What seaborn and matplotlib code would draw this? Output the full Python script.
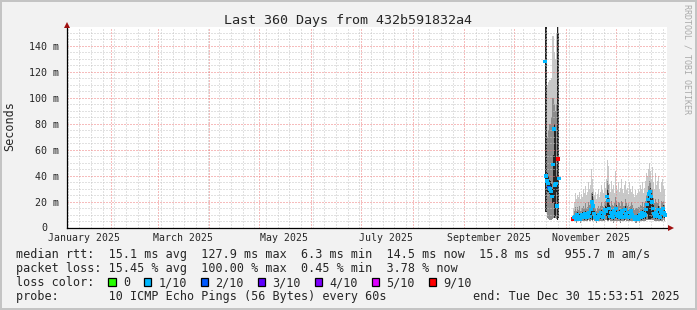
import numpy as np
import pandas as pd
import matplotlib
matplotlib.use("Agg")
import matplotlib.pyplot as plt
import matplotlib.dates as mdates
from matplotlib.patches import Rectangle
import seaborn as sns

# ---------------- data ----------------
title = "Last 360 Days from 432b591832a4"
axis_start = "2025-01-05 12:30"
axis_days = 360
bucket_minutes = 864          # 0.6 day per consolidated bucket

month_labels = ["January 2025", "March 2025", "May 2025", "July 2025",
                "September 2025", "November 2025"]
month_label_dates = ["2025-01-16", "2025-03-16", "2025-05-16", "2025-07-16",
                     "2025-09-16", "2025-11-16"]
ytick_values = [0, 20, 40, 60, 80, 100, 120, 140]
ytick_labels = ["0", "20 m", "40 m", "60 m", "80 m", "100 m", "120 m", "140 m"]

# segment 1 (ms)
seg1_start = "2025-10-19 08:00"
seg1_med = [128, 40, 36, 34, 31, 30, 28, 24, 49, 76, 33, 34, 17, 53, 38]
seg1_lo = [13, 12, 8, 7, 6, 6, 6, 7, 8, 9, 8, 7, 6, 10, 12]
seg1_hi = [155, 155, 110, 112, 114, 114, 115, 148, 148, 135, 130, 150, 155, 155, 60]
seg1_mhi = [155, 155, 70, 75, 80, 80, 85, 100, 100, 95, 90, 95, 155, 150, 50]
seg1_dlo = [12, 12, 28, 28, 26, 25, 23, 19, 20, 8, 9, 28, 6, 8, 30]
seg1_dhi = [155, 155, 42, 40, 37, 36, 34, 30, 56, 80, 78, 40, 155, 150, 45]
seg1_loss = [1, 1, 1, 1, 2, 1, 1, 1, 1, 1, 1, 1, 1, 9, 1]

# segment 2 (ms)
seg2_start = "2025-11-05 03:00"
seg2_med = [7, 8, 9, 7, 10, 8, 9, 7, 8, 10,
            9, 8, 11, 9, 8, 10, 12, 9, 14, 20,
            17, 11, 8, 9, 7, 8, 10, 9, 12, 9,
            8, 11, 14, 13, 24, 21, 15, 9, 12, 10,
            8, 13, 11, 15, 10, 9, 12, 8, 10, 13,
            9, 8, 14, 11, 9, 12, 8, 9, 13, 10,
            9, 8, 7, 8, 9, 7, 8, 10, 8, 12,
            9, 11, 10, 14, 18, 22, 26, 28, 24, 20,
            15, 11, 9, 12, 10, 14, 9, 8, 13, 11,
            15, 12, 10]
seg2_lo = [5, 5, 5, 4, 5, 5, 5, 4, 5, 5,
           5, 5, 5, 5, 5, 6, 5, 5, 6, 5,
           6, 5, 5, 4, 5, 5, 5, 5, 5, 5,
           5, 5, 6, 6, 5, 5, 6, 5, 5, 5,
           4, 5, 5, 5, 5, 5, 5, 4, 5, 5,
           5, 5, 6, 5, 5, 5, 5, 5, 5, 5,
           5, 5, 4, 4, 5, 5, 4, 5, 5, 5,
           5, 5, 5, 6, 6, 6, 6, 6, 6, 6,
           6, 5, 5, 5, 5, 5, 5, 5, 5, 5,
           6, 5, 5]
seg2_hi = [15, 20, 27, 22, 25, 24, 28, 22, 26, 24,
           30, 27, 32, 25, 28, 35, 30, 33, 45, 38,
           30, 25, 28, 22, 26, 30, 24, 28, 33, 29,
           27, 35, 31, 38, 52, 48, 34, 28, 36, 30,
           33, 27, 44, 32, 29, 35, 28, 31, 38, 30,
           27, 33, 36, 29, 31, 26, 35, 30, 28, 32,
           26, 24, 29, 25, 27, 30, 28, 33, 30, 35,
           27, 31, 36, 42, 40, 45, 50, 44, 38, 47,
           35, 30, 42, 33, 36, 40, 30, 28, 35, 38,
           32, 30, 25]
seg2_mhi = [10, 13, 16, 13, 16, 14, 17, 13, 15, 15,
            17, 15, 19, 15, 16, 20, 18, 19, 27, 28,
            24, 17, 15, 13, 15, 17, 15, 17, 20, 17,
            16, 20, 21, 22, 36, 33, 23, 17, 21, 18,
            17, 19, 24, 21, 17, 20, 19, 17, 21, 20,
            17, 17, 22, 19, 17, 19, 16, 17, 20, 18,
            15, 14, 15, 15, 15, 16, 16, 18, 17, 20,
            16, 19, 21, 25, 28, 32, 36, 35, 30, 30,
            23, 19, 22, 20, 19, 22, 17, 15, 21, 20,
            21, 18, 15]
seg2_dlo = [6, 6, 7, 6, 7, 6, 7, 6, 6, 7,
            7, 6, 8, 7, 6, 7, 8, 7, 9, 6,
            7, 8, 6, 7, 6, 6, 7, 7, 8, 7,
            6, 8, 9, 9, 6, 6, 9, 7, 8, 7,
            6, 9, 8, 10, 7, 7, 8, 6, 7, 9,
            7, 6, 9, 8, 7, 8, 6, 7, 9, 7,
            7, 6, 6, 6, 7, 6, 6, 7, 6, 8,
            7, 8, 7, 9, 11, 7, 7, 7, 7, 8,
            10, 8, 7, 8, 7, 9, 7, 6, 9, 8,
            10, 8, 7]
seg2_dhi = [8, 10, 11, 9, 12, 10, 11, 9, 10, 12,
            11, 10, 13, 11, 10, 12, 14, 11, 17, 26,
            21, 13, 10, 11, 9, 10, 12, 11, 14, 11,
            10, 13, 17, 16, 30, 27, 18, 11, 14, 12,
            10, 15, 13, 18, 12, 11, 14, 10, 12, 15,
            11, 10, 17, 13, 11, 14, 10, 11, 15, 12,
            11, 10, 9, 10, 11, 9, 10, 12, 10, 14,
            11, 13, 12, 17, 22, 27, 30, 31, 28, 23,
            18, 13, 11, 14, 12, 17, 11, 10, 15, 13,
            18, 14, 12]
seg2_loss = [9] + [1] * 92

loss_names = ["0", "1/10", "2/10", "3/10", "4/10", "5/10", "9/10"]
loss_keys = [0, 1, 2, 3, 4, 5, 9]
loss_colors = ["#26ff00", "#00b8ff", "#0059ff", "#5e00ff", "#7e00ff", "#dd00ff", "#ff0000"]

legend_lines = [
    "median rtt:  15.1 ms avg  127.9 ms max  6.3 ms min  14.5 ms now  15.8 ms sd  955.7 m am/s",
    "packet loss: 15.45 % avg  100.00 % max  0.45 % min  3.78 % now",
    "loss color:",
    "probe:       10 ICMP Echo Pings (56 Bytes) every 60s",
]
end_text = "end: Tue Dec 30 15:53:51 2025"
ylabel = "Seconds"
watermark = "RRDTOOL / TOBI OETIKER"

# ---------------- drawing ----------------
sns.set_style("white")
plt.rcParams["font.family"] = ["DejaVu Sans Mono"]

W, H = 697, 310
fig = plt.figure(figsize=(W / 100, H / 100), dpi=100, facecolor="#f2f2f2")
ax = fig.add_axes([67 / W, 1 - 228 / H, 600 / W, 201 / H])
ax.set_facecolor("white")


def num(d):
    return mdates.date2num(pd.DatetimeIndex(d).to_pydatetime())


t0 = pd.Timestamp(axis_start)
t1 = t0 + pd.Timedelta(days=axis_days)
ax.set_xlim(mdates.date2num(t0.to_pydatetime()), mdates.date2num(t1.to_pydatetime()))
ax.set_ylim(0, 154.6)

segments = [
    (seg1_start, seg1_med, seg1_lo, seg1_hi, seg1_mhi, seg1_dlo, seg1_dhi, seg1_loss),
    (seg2_start, seg2_med, seg2_lo, seg2_hi, seg2_mhi, seg2_dlo, seg2_dhi, seg2_loss),
]
frames = []
for start, med, lo, hi, mhi, dlo, dhi, loss in segments:
    t = num(pd.date_range(start, periods=len(med), freq=f"{bucket_minutes}min"))
    ax.fill_between(t, lo, hi, step="mid", color="#c8c8c8", lw=0, antialiased=False, zorder=1)
    ax.fill_between(t, lo, mhi, step="mid", color="#8c8c8c", lw=0, antialiased=False, zorder=1.1)
    ax.fill_between(t, dlo, dhi, step="mid", color="#262626", lw=0, antialiased=False, zorder=1.2)
    frames.append(pd.DataFrame({"t": t, "med": med, "loss": loss}))
df = pd.concat(frames, ignore_index=True)
palette = dict(zip(loss_keys, loss_colors))
sns.scatterplot(data=df, x="t", y="med", hue="loss", palette=palette, marker="s",
                s=6, linewidth=0, legend=False, ax=ax, zorder=4)

# grid
month_starts = pd.date_range("2025-02-01", "2025-12-01", freq="MS")
weeks = pd.date_range("2025-01-06", "2025-12-29", freq="W-MON")
ax.set_xticks(num(month_starts))
ax.set_xticks(num(weeks), minor=True)
ax.set_yticks(ytick_values)
ax.set_yticks(np.arange(0, 155, 5), minor=True)
dot = (0, (1, 2))
ax.grid(which="minor", color="#c4c4c4", lw=0.72, ls=dot)
ax.grid(which="major", color="#ee7a7a", lw=0.72, ls=dot)
ax.set_axisbelow(False)
ax.set_xlabel("")
ax.set_ylabel("")
ax.set_xticklabels([])
ax.set_yticklabels(["" if v == 0 else l for v, l in zip(ytick_values, ytick_labels)],
                   fontsize=7.2)
ax.tick_params(axis="x", which="major", length=2.5, width=0.72, color="#ee7a7a", direction="out")
ax.tick_params(axis="x", which="minor", length=0)
ax.tick_params(axis="y", which="major", length=2.5, width=0.72, color="#444444",
               direction="out", pad=3.5)
ax.tick_params(axis="y", which="minor", length=0)
ax.annotate(ytick_labels[0], xy=(0, 0), xycoords=("axes fraction", "data"),
            xytext=(-20, 0), textcoords="offset pixels", ha="right", va="center",
            fontsize=7.2)

for s in ["top", "right"]:
    ax.spines[s].set_visible(False)
for s in ["left", "bottom"]:
    ax.spines[s].set_color("black")
    ax.spines[s].set_linewidth(0.9)
    ax.spines[s].set_linestyle("-")
    ax.spines[s].set_zorder(5)
ax.spines["left"].set_bounds(0, 155.5)

# arrows
ax.plot([0], [1 + 2.5 / 201], marker="^", ms=4.2, color="#a01010", mew=0,
        transform=ax.transAxes, clip_on=False, zorder=6)
ax.plot([1 + 4 / 600], [0], marker=">", ms=4.2, color="#a01010", mew=0,
        transform=ax.transAxes, clip_on=False, zorder=6)

# month labels
for lab, d in zip(month_labels, month_label_dates):
    ax.text(mdates.date2num(pd.Timestamp(d).to_pydatetime()), -5 / 201, lab,
            transform=ax.get_xaxis_transform(), ha="center", va="top", fontsize=7.1)

# texts
fig.text(0.5, 1 - 24 / H, title, ha="center", va="baseline", fontsize=9.6)
fig.text(10 / W, 1 - 126 / H, ylabel, rotation=90, ha="center", va="center", fontsize=8.5)
fig.text(687 / W, 1 - 4 / H, watermark, rotation=-90, ha="center", va="top",
         fontsize=6, color="#aaaaaa")

pitch = 7.125
baselines = [258.3, 272.3, 286.0, 300.0]
for line, b in zip(legend_lines, baselines):
    fig.text(16 / W, 1 - b / H, line, ha="left", va="baseline", fontsize=8.5)
fig.text(680 / W, 1 - baselines[3] / H, end_text, ha="right", va="baseline", fontsize=8.5)

col = 13
for name, c in zip(loss_names, loss_colors):
    x0 = 16 + col * pitch - 0.3
    fig.add_artist(Rectangle((x0 / W, 1 - 285.7 / H), 7.3 / W, 7.4 / H,
                             transform=fig.transFigure, facecolor=c,
                             edgecolor="black", lw=0.9))
    fig.text((16 + (col + 2) * pitch) / W, 1 - baselines[2] / H, name,
             ha="left", va="baseline", fontsize=8.5)
    col += 2 + len(name) + 2

# frame
fig.add_artist(Rectangle((1 / W, 1 / H), (W - 2) / W, (H - 2) / H, transform=fig.transFigure,
                         fill=False, edgecolor="#c4c4c4", lw=1.44))

fig.savefig("out.png", dpi=100, facecolor=fig.get_facecolor())
